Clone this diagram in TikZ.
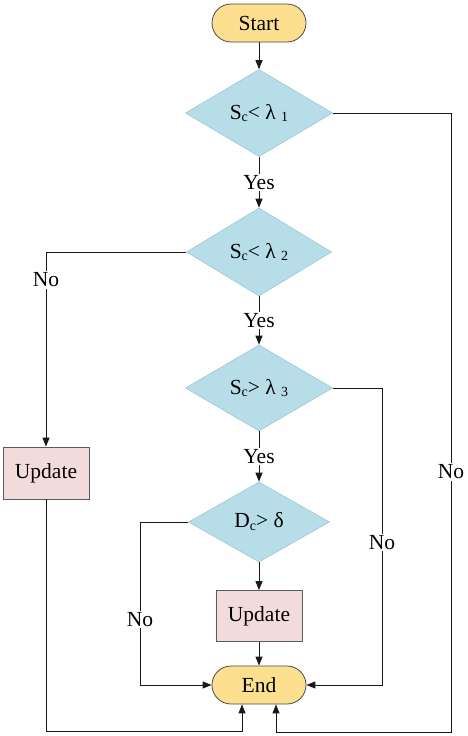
\documentclass[tikz,border=0pt]{standalone}
\usepackage{fontspec}
\setmainfont{Liberation Serif}
\usetikzlibrary{arrows.meta,shapes.geometric}
\definecolor{termfill}{HTML}{FCE08F}
\definecolor{termline}{HTML}{4A4A4A}
\definecolor{decfill}{HTML}{B7DEE8}
\definecolor{decline}{HTML}{9CC6D2}
\definecolor{procfill}{HTML}{F2DCDB}
\definecolor{procline}{HTML}{5A5A5A}
\newcommand{\lowsub}[1]{\raisebox{-0.3ex}{\fontsize{14}{14}\selectfont #1}}
\begin{document}
\begin{tikzpicture}[x=1pt,y=-1pt,
  every node/.style={font=\fontsize{21.5}{23}\selectfont},
  term/.style={draw=termline,fill=termfill,line width=0.8pt,rounded corners=19pt,minimum width=94pt,minimum height=38pt,inner sep=0pt},
  decision/.style={diamond,draw=decline,fill=decfill,line width=0.6pt,inner sep=0pt,aspect=1.7},
  proc/.style={draw=procline,fill=procfill,line width=0.8pt,minimum width=86pt,minimum height=52pt,inner sep=0pt},
  conn/.style={line width=0.9pt,draw=black!90},
  arr/.style={conn,-{Triangle[length=9pt,width=7pt]}},
  lbl/.style={fill=white,inner sep=1.5pt}]
\useasboundingbox (0,0) rectangle (468,736);
\node[term] (start) at (259,23) {Start};
\node[decision,minimum width=147pt,minimum height=87pt] (d1) at (259,113) {S\lowsub{c}< λ \lowsub{1}};
\node[decision,minimum width=145pt,minimum height=88pt] (d2) at (259,252) {S\lowsub{c}< λ \lowsub{2}};
\node[decision,minimum width=147pt,minimum height=86pt] (d3) at (259,388) {S\lowsub{c}> λ \lowsub{3}};
\node[decision,minimum width=141pt,minimum height=80pt] (d4) at (259,522) {D\lowsub{c}> δ};
\node[proc] (u1) at (46,473) {Update};
\node[proc,minimum height=51pt] (u2) at (259,616) {Update};
\node[term] (end) at (259,685) {End};
\coordinate (bl) at (242,731);
\coordinate (br) at (451,732);
\coordinate (r3) at (382,685);
\coordinate (l4) at (140,685);
% main spine
\draw[arr] (start) -- (d1);
\draw[arr] (d1.south) -- node[lbl,pos=0.5] (y1) {Yes} (d2.north);
\draw[arr] (d2.south) -- node[lbl,pos=0.5] (y2) {Yes} (d3.north);
\draw[arr] (d3.south) -- node[lbl,pos=0.5] (y3) {Yes} (d4.north);
\draw[arr] (d4.south) -- (u2.north);
\draw[arr] (u2.south) -- (end.north);
% No branches
\draw[arr] (d2.west) -| node[lbl,pos=0.572] (n2) {No} (u1.north);
\draw[arr] (u1.south) |- (bl) -- (bl |- end.south);
\draw[arr] (d1.east) -| node[lbl,pos=0.79] (n1) {No} (br) -| ([xshift=17pt]end.south);
\draw[arr] (d3.east) -| node[lbl,pos=0.76] (n3) {No} (r3) -- (end.east);
\draw[arr] (d4.west) -| node[lbl,pos=0.8] (n4) {No} (l4) -- (end.west);
\end{tikzpicture}
\end{document}
